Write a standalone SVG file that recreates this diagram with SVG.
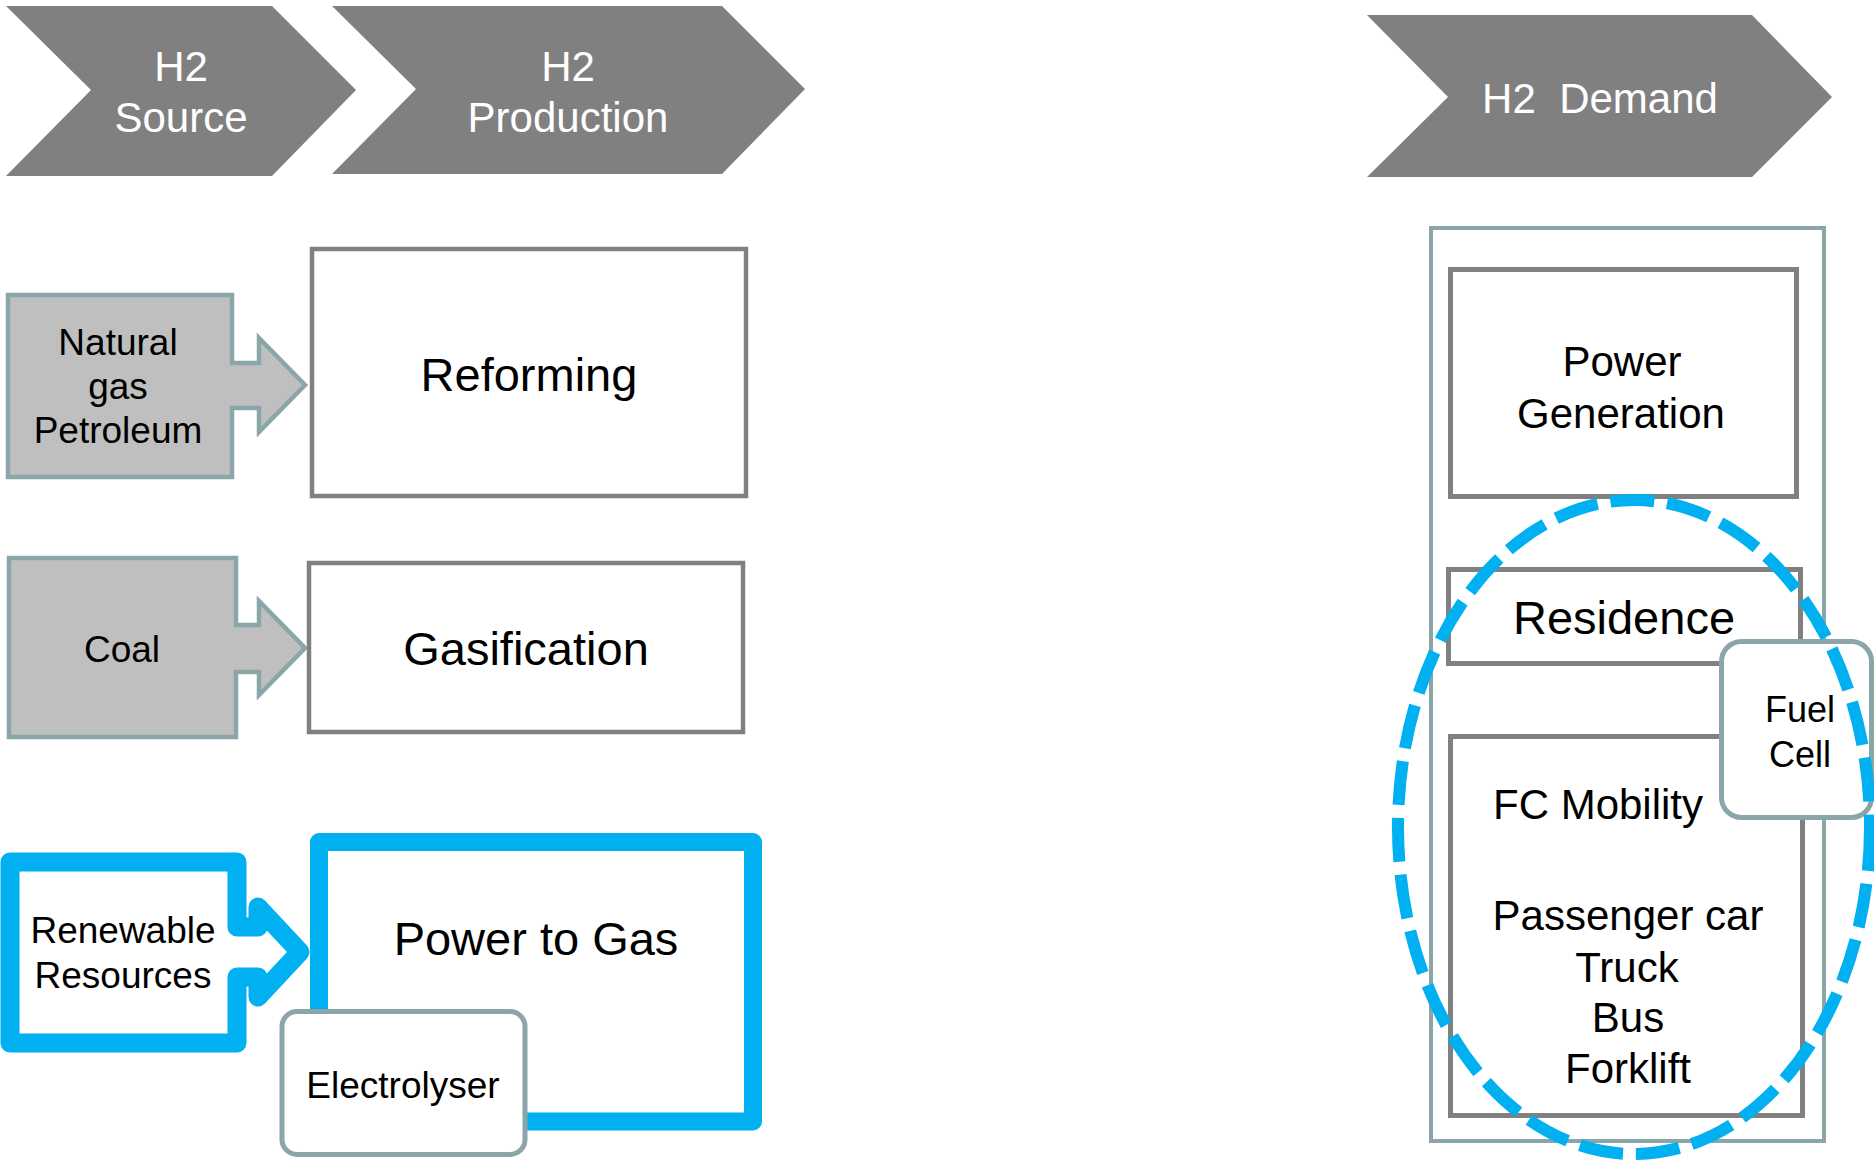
<svg xmlns="http://www.w3.org/2000/svg" width="1874" height="1167" viewBox="0 0 1874 1167">
<style>
text{font-family:"Liberation Sans",Arial,sans-serif;fill:#000;text-anchor:middle}
.chev{fill:#808080;stroke:none}
.chevt{fill:#fff;font-size:42px}
.src{fill:#bfbfbf;stroke:#8aa6a8;stroke-width:4.5;stroke-linejoin:miter}
.srct{font-size:37px}
.proc{fill:#fff;stroke:#808080;stroke-width:4.5}
.proct{font-size:47px}
.blue{fill:#fff;stroke:#00b0f0;stroke-width:19;stroke-linejoin:round}
.tag{fill:#fff;stroke:#8aa6a8;stroke-width:5}
.cont{fill:#fff;stroke:#8aa6a8;stroke-width:4}
.dem{fill:#fff;stroke:#808080;stroke-width:5}
.demt{font-size:42px}
.dash{fill:none;stroke:#00b0f0;stroke-width:12;stroke-dasharray:44 13}
</style>
<rect width="1874" height="1167" fill="#fff"/>
<g id="chevron-source">
<polygon class="chev" points="6,6 272,6 356,90 272,176 6,176 91,90"/>
<text class="chevt" x="181" y="81">H2</text>
<text class="chevt" x="181" y="132">Source</text>
</g>
<g id="chevron-production">
<polygon class="chev" points="332,6 722,6 805,89 722,174 332,174 416,89"/>
<text class="chevt" x="568" y="81">H2</text>
<text class="chevt" x="568" y="132">Production</text>
</g>
<g id="chevron-demand">
<polygon class="chev" points="1367,15 1752,15 1832,97 1752,177 1367,177 1448,97"/>
<text class="chevt" x="1600" y="113" xml:space="preserve">H2  Demand</text>
</g>
<g id="src-natural-gas">
<polygon class="src" points="8,295 232,295 232,363 259,363 259,338 305,385 259,432 259,408 232,408 232,477 8,477"/>
<text class="srct" x="118" y="355">Natural</text>
<text class="srct" x="118" y="399">gas</text>
<text class="srct" x="118" y="443">Petroleum</text>
</g>
<g id="src-coal">
<polygon class="src" points="9,558 236,558 236,625 259,625 259,601 305,648 259,695 259,672 236,672 236,737 9,737"/>
<text class="srct" x="122" y="662">Coal</text>
</g>
<g id="src-renewable">
<polygon class="blue" points="10,862 237,862 237,927 258,927 258,907 300,952 258,997 258,977 237,977 237,1043 10,1043"/>
<text class="srct" x="123" y="943">Renewable</text>
<text class="srct" x="123" y="988">Resources</text>
</g>
<g id="proc-reforming">
<rect class="proc" x="312" y="249" width="434" height="247"/>
<text class="proct" x="529" y="391">Reforming</text>
</g>
<g id="proc-gasification">
<rect class="proc" x="309" y="563" width="434" height="169"/>
<text class="proct" x="526" y="665">Gasification</text>
</g>
<g id="proc-power-to-gas">
<rect class="blue" x="319" y="842" width="434" height="279.5" style="stroke-width:18"/>
<text class="proct" x="536" y="955">Power to Gas</text>
</g>
<g id="tag-electrolyser">
<rect class="tag" x="282" y="1011.5" width="243" height="143" rx="15"/>
<text class="srct" x="403" y="1098">Electrolyser</text>
</g>
<g id="demand-container">
<rect class="cont" x="1431" y="228" width="393" height="913"/>
</g>
<g id="dem-power-generation">
<rect class="dem" x="1450.5" y="269.5" width="346" height="227"/>
<text class="demt" x="1622" y="376">Power</text>
<text class="demt" x="1621" y="428">Generation</text>
</g>
<g id="dem-residence">
<rect class="dem" x="1448.5" y="569.5" width="352" height="94"/>
<text class="proct" x="1624" y="634">Residence</text>
</g>
<g id="dem-fc-mobility">
<rect class="dem" x="1450.5" y="736.5" width="352" height="379"/>
<text class="demt" x="1598" y="819">FC Mobility</text>
<text class="demt" x="1628" y="930">Passenger car</text>
<text class="demt" x="1627" y="982">Truck</text>
<text class="demt" x="1628" y="1032">Bus</text>
<text class="demt" x="1628" y="1083">Forklift</text>
</g>
<g id="tag-fuel-cell">
<rect class="tag" x="1721.5" y="641.5" width="150" height="176" rx="20"/>
<text x="1800" y="722" style="font-size:36px">Fuel</text>
<text x="1800" y="767" style="font-size:36px">Cell</text>
</g>
<g id="fuel-cell-scope">
<ellipse class="dash" cx="1634" cy="827" rx="236" ry="327"/>
</g>
<g id="connectors"/>
</svg>
